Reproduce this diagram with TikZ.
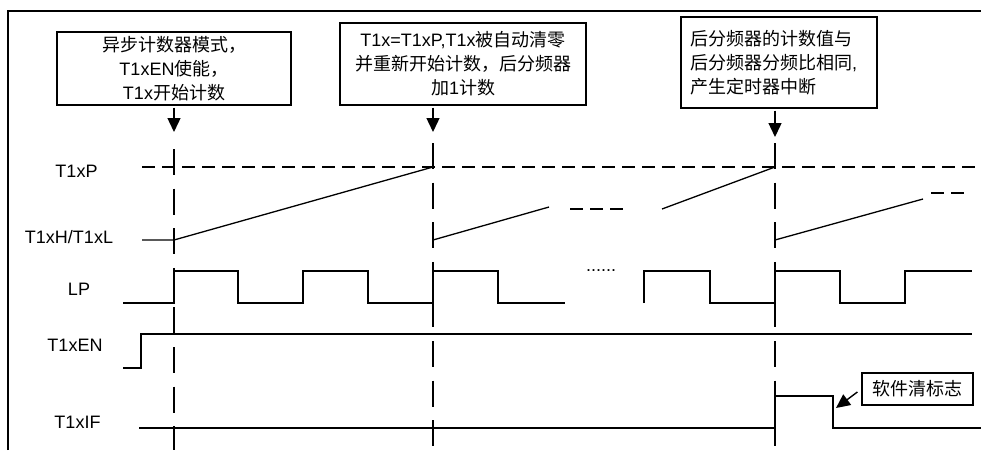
\documentclass[tikz,border=0pt]{standalone}
\usepackage{fontspec}
\setmainfont{Liberation Sans}
\newfontfamily\cjk{Noto Sans CJK SC}
\usetikzlibrary{arrows.meta}

\begin{document}
\begin{tikzpicture}[x=1pt,y=-1pt,
  note/.style={draw,line width=1.2pt,inner sep=0pt,font=\fontsize{18}{24}\selectfont},
  lbl/.style={anchor=base,font=\fontsize{18}{22}\selectfont},
  sig/.style={line width=1.3pt},
  lvl/.style={line width=2.4pt,dash pattern=on 13pt off 7pt},
  event/.style={line width=2.6pt,dash pattern=on 26pt off 13.6pt},
  pointer/.style={-{Triangle[length=14pt,width=13pt]},line width=1.4pt}]
  \useasboundingbox (0,0) rectangle (981,450);
  \draw[line width=1.8pt] (8,450) -- (8,11) -- (981,11);
  % Notes
  \node[note,minimum width=234pt,minimum height=73pt,align=center] (start) at (174,68.5)
    {{\cjk 异步计数器模式，}\\T1xEN{\cjk 使能，}\\T1x{\cjk 开始计数}};
  \node[note,minimum width=246pt,minimum height=82pt,align=center] (reload) at (463,64)
    {T1x=T1xP,T1x{\cjk 被自动清零}\\{\cjk 并重新开始计数，后分频器}\\{\cjk 加}1{\cjk 计数}};
  \node[note,text width=178pt,inner xsep=9pt,minimum height=91pt,align=left] (irq) at (779,62.5)
    {{\cjk 后分频器的计数值与}\\{\cjk 后分频器分频比相同}, \\{\cjk 产生定时器中断}};
  \node[note,minimum width=111pt,minimum height=32pt] (clear) at (917.5,389) {\cjk 软件清标志};
  \coordinate (tip1) at (174,132);
  \coordinate (tip2) at (433,132);
  \coordinate (tip3) at (775,137);
  \coordinate (fall) at (836,408);
  \draw[pointer,shorten <=2pt] (start.south -| tip1) -- (tip1);
  \draw[pointer,shorten <=2pt] (reload.south -| tip2) -- (tip2);
  \draw[pointer,shorten <=2pt] (irq.south -| tip3) -- (tip3);
  \draw[pointer,shorten <=5pt] (clear.west) -- (fall);
  % Events
  \foreach \x/\y in {174/149,433/143,775/143}
    \draw[event] (\x,\y) -- (\x,450);
  % Signal names
  \node[lbl] (p) at (76.5,177) {T1xP};
  \node[lbl] (hl) at (69,243) {T1xH/T1xL};
  \node[lbl] (lp) at (79,295) {LP};
  \node[lbl] (en) at (75,351) {T1xEN};
  \node[lbl] (flag) at (77.5,428) {T1xIF};
  % T1xP and T1xH/T1xL
  \draw[lvl] (142,167) -- (981,167);
  \draw[sig] (142,240) -- (174,240) -- (433,167);
  \draw[sig] (433,240) -- (549,207);
  \draw[lvl] (570,209) -- (624,209);
  \draw[sig] (662,209) -- (775,167);
  \draw[sig] (775,240) -- (923,199);
  \draw[lvl] (931,193) -- (965,193);
  % LP
  \draw[sig] (123,303) -- (174,303) -- (174,271) -- (238,271) -- (238,303) -- (303,303)
    -- (303,271) -- (368,271) -- (368,303) -- (433,303) -- (433,271) -- (498,271)
    -- (498,303) -- (565,303);
  \node[lbl] (dots) at (601,271) {......};
  \draw[sig] (644,303) -- (644,271) -- (710,271) -- (710,303) -- (775,303) -- (775,271)
    -- (840,271) -- (840,303) -- (905,303) -- (905,271) -- (972,271);
  % T1xEN and T1xIF
  \draw[sig] (123,368) -- (141,368) -- (141,334) -- (972,334);
  \draw[sig] (139,428) -- (775,428) -- (775,396) -- (833,396) -- (833,428) -- (981,428);
\end{tikzpicture}
\end{document}
